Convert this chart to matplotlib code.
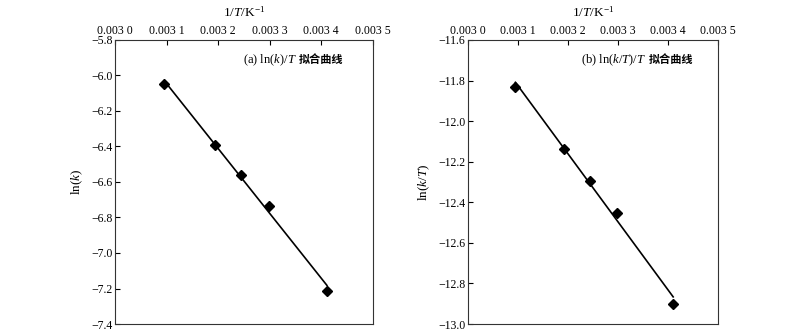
import numpy as np
import matplotlib
matplotlib.use('Agg')
import matplotlib.pyplot as plt

plt.rcParams['font.family'] = ['Liberation Serif', 'Noto Sans CJK SC']
plt.rcParams['mathtext.fontset'] = 'custom'
plt.rcParams['mathtext.rm'] = 'Liberation Serif'
plt.rcParams['mathtext.it'] = 'Liberation Serif:italic'
plt.rcParams['font.size'] = 8.5

# 实验数据：1/T 与对应的 ln(k)、ln(k/T)
inv_T = [0.003095, 0.003193, 0.003245, 0.003299, 0.003411]
ln_k = [-6.048, -6.392, -6.559, -6.735, -7.214]
ln_k_T = [-11.830, -12.139, -12.294, -12.452, -12.899]

x_ticks = [0.0030, 0.0031, 0.0032, 0.0033, 0.0034, 0.0035]
x_tick_labels = ['0.003 0', '0.003 1', '0.003 2', '0.003 3', '0.003 4', '0.003 5']
yticks_a = [-7.4, -7.2, -7.0, -6.8, -6.6, -6.4, -6.2, -6.0, -5.8]
yticks_b = [-13.0, -12.8, -12.6, -12.4, -12.2, -12.0, -11.8, -11.6]


def draw_panel(ax, y, yticks, ylabel, tag, title, tx):
    k, b = np.polyfit(inv_T, y, 1)
    xs = np.array([inv_T[0], inv_T[-1]])
    ax.plot(xs, k * xs + b, color='black', lw=1.2)
    ax.plot(inv_T, y, 'D', color='black', ms=4.6)

    ax.set_xlim(x_ticks[0], x_ticks[-1])
    ax.set_ylim(yticks[0], yticks[-1])
    ax.xaxis.tick_top()
    ax.xaxis.set_label_position('top')
    ax.set_xticks(x_ticks)
    ax.set_xticklabels(x_tick_labels)
    ax.set_yticks(yticks)
    ax.set_yticklabels([f'{v:.1f}'.replace('-', '\u2212') for v in yticks])
    ax.tick_params(direction='in', length=3.5, width=0.8, pad=2, labelsize=8.5)
    ax.set_xlabel('1/$T$/K$^{-1}$', labelpad=6, fontsize=9.5)
    ax.set_ylabel(ylabel, labelpad=4, fontsize=9.5)
    for s in ax.spines.values():
        s.set_linewidth(0.8)
        s.set_color('#333333')

    # 标题：中文部分与西文部分分开绘制
    cn = ax.text(tx, 0.93, '拟合曲线', transform=ax.transAxes, ha='right',
                 va='center', fontsize=8, fontweight='bold',
                 family=['Noto Sans CJK SC'])
    ax.annotate(tag + ' ' + title, xy=(0, 0.5), xycoords=cn, xytext=(-1.5, 0),
                textcoords='offset points', ha='right', va='center', fontsize=9)


fig = plt.figure(figsize=(8, 3.33), dpi=100)
ax1 = fig.add_axes([0.144, 0.027, 0.322, 0.853])
ax2 = fig.add_axes([0.585, 0.027, 0.312, 0.853])

draw_panel(ax1, ln_k, yticks_a, 'ln($k$)', '(a)', 'ln($k$)/$T$', 0.884)
draw_panel(ax2, ln_k_T, yticks_b, 'ln($k/T$)', '(b)', 'ln($k/T$)/$T$', 0.901)

fig.savefig('out.png', dpi=100)
